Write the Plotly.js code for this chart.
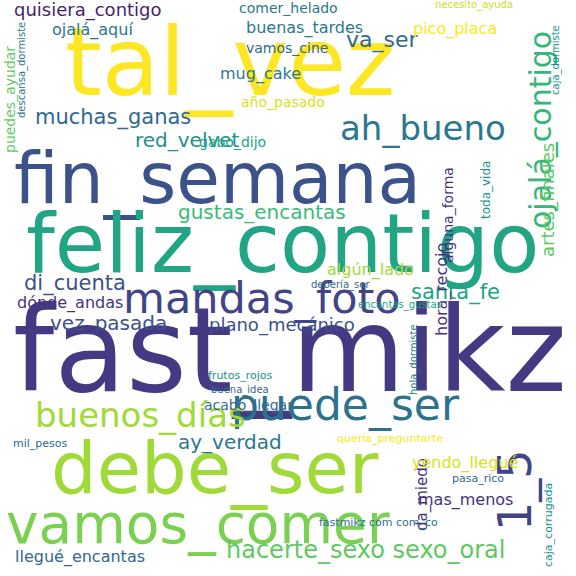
<!DOCTYPE html>
<html>
<head>
<meta charset="utf-8">
<script src="https://cdn.plot.ly/plotly-3.0.1.min.js"></script>
<style>html,body{margin:0;padding:0;background:#fff}</style>
</head>
<body>
<div id="chart" style="width:576px;height:576px"></div>
<script>
// word cloud: word, font size, layout position (px), rotation, colour
const words = ['tal_vez','fast_mikz','fin_semana','feliz_contigo','debe_ser','vamos_comer','puede_ser','mandas_foto','ah_bueno','buenos_días','1_5','hacerte_sexo sexo_oral','ojalá_contigo','muchas_ganas','red_velvet','gustas_encantas','di_cuenta','santa_fe','vez_pasada','plano_mecánico','ay_verdad','quisiera_contigo','ojalá_aquí','comer_helado','buenas_tardes','vamos_cine','va_ser','pico_placa','necesito_ayuda','caja_dormiste','mug_cake','año_pasado','gabo_dijo','descansa_dormiste','puedes_ayudar','artes_finales','alguna_forma','toda_vida','hora_recojo','algún_lado','debería_ser','dónde_andas','encantas_gustas','frutos_rojos','acabo_llegar','buena_idea','hola_dormiste','mil_pesos','quería_preguntarte','da_miedo','yendo_llegué','pasa_rico','mas_menos','fastmikz com com_co','llegué_encantas','caja_corrugada'];
const sizes = [94,117,71,82,72,55,44,43,34,34,46,24,30,21,20,20,21,21,20,18,20,18,16,14,16,14,22,16,10,10,16,14,14,10,14,18,14,12,16,16,10,16,10,11,14,10,10,11,11,15,16,11,16,11,16,11];
const xs = [230,290,217,282,215,198,345,262,423,140,515,365,540,113,187,262,75,455,108,282,230,88,92,288,304,287,382,455,474,556,260,283,232,22,10,548,448,486,442,370,340,70,400,240,248,240,414,40,390,422,465,478,465,378,80,548];
const ys = [62,350,178,243,468,524,405,298,128,415,490,550,130,117,140,212,283,292,323,325,442,10,30,8,28,48,40,29,5,60,74,102,142,70,100,200,215,190,290,270,285,303,305,375,405,390,360,443,438,495,463,478,500,522,557,525];
const angles = [0,0,0,0,0,0,0,0,0,0,-90,0,-90,0,0,0,0,0,0,0,0,0,0,0,0,0,0,0,0,-90,0,0,0,-90,-90,-90,-90,-90,-90,0,0,0,0,0,0,0,-90,0,0,-90,0,0,0,0,0,-90];
const colors = ['#fde725','#443983','#3b528b','#21a585','#a0da39','#7ad151','#2c728e','#414487','#2a788e','#a0da39','#414487','#5ec962','#35b779','#31688e','#21918c','#3aba76','#3b528b','#20a486','#3b528b','#3b528b','#2a788e','#481f70','#2a788e','#2a788e','#2a788e','#31688e','#31688e','#fde725','#cde11d','#21918c','#2a788e','#d8e219','#20a486','#2a788e','#5ec962','#5ec962','#46337e','#21918c','#46337e','#a0da39','#31688e','#46337e','#20a486','#21918c','#31688e','#31688e','#2a788e','#31688e','#fde725','#46337e','#d8e219','#31688e','#46337e','#2c728e','#31688e','#21918c'];

const annotations = words.map((w, i) => ({
    x: xs[i], y: ys[i], xref: 'x', yref: 'y',
    text: w, showarrow: false, textangle: angles[i],
    font: { family: 'DejaVu Sans', size: sizes[i], color: colors[i] },
    xanchor: 'center', yanchor: 'middle'
}));

const layout = {
    width: 576, height: 576,
    margin: { t: 0, b: 0, l: 0, r: 0 },
    paper_bgcolor: '#fff', plot_bgcolor: '#fff',
    xaxis: { range: [0, 576], visible: false },
    yaxis: { range: [576, 0], visible: false },
    annotations: annotations,
    showlegend: false
};

Plotly.newPlot('chart', [], layout, { displayModeBar: false, staticPlot: true });
</script>
</body>
</html>
